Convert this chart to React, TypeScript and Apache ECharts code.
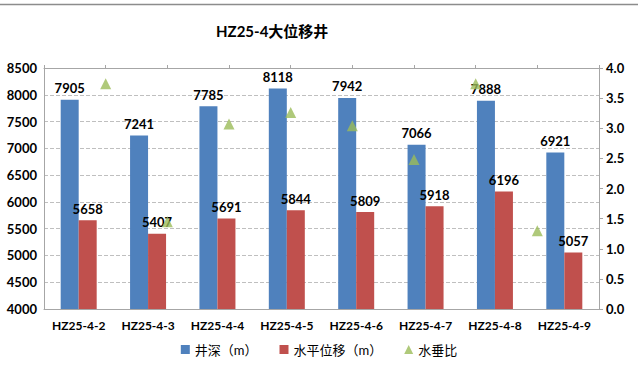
import React, { useEffect, useRef } from "react";
import * as echarts from "echarts";

const categories = ["HZ25-4-2", "HZ25-4-3", "HZ25-4-4", "HZ25-4-5", "HZ25-4-6", "HZ25-4-7", "HZ25-4-8", "HZ25-4-9"];
const wellDepth = [7905, 7241, 7785, 8118, 7942, 7066, 7888, 6921];
const horizontalDisp = [5658, 5407, 5691, 5844, 5809, 5918, 6196, 5057];
const ratioPositions = [1, 2, 3, 4, 5, 6, 7, 8];
const ratio = [3.74, 1.45, 3.07, 3.26, 3.04, 2.48, 3.74, 1.3];

const FONT = "Lato, 'Noto Sans CJK SC', sans-serif";

export default function App() {
  const ref = useRef<HTMLDivElement>(null);
  useEffect(() => {
    if (!ref.current) return;
    const chart = echarts.init(ref.current, null, { renderer: "svg" });
    const axisColor = "#a6a6a6";
    const labelStyle = {
      show: true,
      position: "top",
      distance: 5,
      color: "#000",
      fontWeight: "bold",
      fontSize: 13,
      fontFamily: FONT,
    };
    chart.setOption({
      animation: false,
      backgroundColor: "#ffffff",
      textStyle: { fontFamily: FONT },
      title: {
        text: "HZ25-4大位移井",
        left: 211,
        top: 18,
        textStyle: { fontSize: 15, fontWeight: "bold", color: "#000", fontFamily: FONT },
      },
      graphic: [
        {
          type: "line",
          shape: { x1: 0, y1: 4.5, x2: 638, y2: 4.5 },
          style: { stroke: "#8c8c8c", lineWidth: 1.5 },
        },
      ],
      legend: {
        bottom: 8,
        left: "center",
        itemWidth: 9,
        itemHeight: 9,
        itemGap: 22,
        textStyle: { fontSize: 13, color: "#000", fontFamily: FONT },
        data: [
          { name: "井深（m）", icon: "rect" },
          { name: "水平位移（m）", icon: "rect" },
          { name: "水垂比", icon: "triangle" },
        ],
      },
      grid: { left: 44, right: 39, top: 68, bottom: 60, containLabel: false },
      xAxis: [
        {
          type: "category",
          data: categories,
          position: "bottom",
          axisLine: { lineStyle: { color: axisColor } },
          axisTick: { show: false },
          axisLabel: { color: "#000", fontWeight: "bold", fontSize: 12, margin: 10, fontFamily: FONT },
        },
        {
          type: "value",
          position: "top",
          min: 0,
          max: 9,
          interval: 1,
          axisLine: { show: true, lineStyle: { color: axisColor } },
          axisTick: { show: true, length: 3, lineStyle: { color: axisColor } },
          axisLabel: { show: false },
          splitLine: { show: false },
        },
      ],
      yAxis: [
        {
          type: "value",
          min: 4000,
          max: 8500,
          interval: 500,
          axisLine: { show: true, lineStyle: { color: axisColor } },
          axisTick: { show: false },
          axisLabel: {
            color: "#000",
            fontWeight: "bold",
            fontSize: 13,
            margin: 7,
            fontFamily: FONT,
            formatter: (v: number) => String(v),
          },
          splitLine: { show: true, lineStyle: { color: "#bfbfbf", type: "dashed" } },
        },
        {
          type: "value",
          min: 0,
          max: 4,
          interval: 0.5,
          position: "right",
          axisLine: { show: true, lineStyle: { color: axisColor } },
          axisTick: { show: true, length: 4, lineStyle: { color: axisColor } },
          axisLabel: {
            color: "#000",
            fontWeight: "bold",
            fontSize: 13,
            margin: 7,
            fontFamily: FONT,
            formatter: (v: number) => v.toFixed(1),
          },
          splitLine: { show: false },
        },
      ],
      series: [
        {
          name: "井深（m）",
          type: "bar",
          xAxisIndex: 0,
          yAxisIndex: 0,
          data: wellDepth,
          barWidth: 18,
          barGap: "0%",
          itemStyle: { color: "#4F81BD" },
          label: labelStyle,
        },
        {
          name: "水平位移（m）",
          type: "bar",
          xAxisIndex: 0,
          yAxisIndex: 0,
          data: horizontalDisp,
          barWidth: 18,
          barGap: "0%",
          itemStyle: { color: "#C0504D" },
          label: labelStyle,
        },
        {
          name: "水垂比",
          type: "scatter",
          xAxisIndex: 1,
          yAxisIndex: 1,
          symbol: "triangle",
          symbolSize: 11,
          itemStyle: { color: "#9BBB59" },
          data: ratioPositions.map((p, i) => [p, ratio[i]]),
          z: 5,
        },
      ],
    });
    return () => chart.dispose();
  }, []);
  return (
    <div
      ref={ref}
      style={{ position: "fixed", left: 0, top: 0, width: 638, height: 369, background: "#fff" }}
    />
  );
}
